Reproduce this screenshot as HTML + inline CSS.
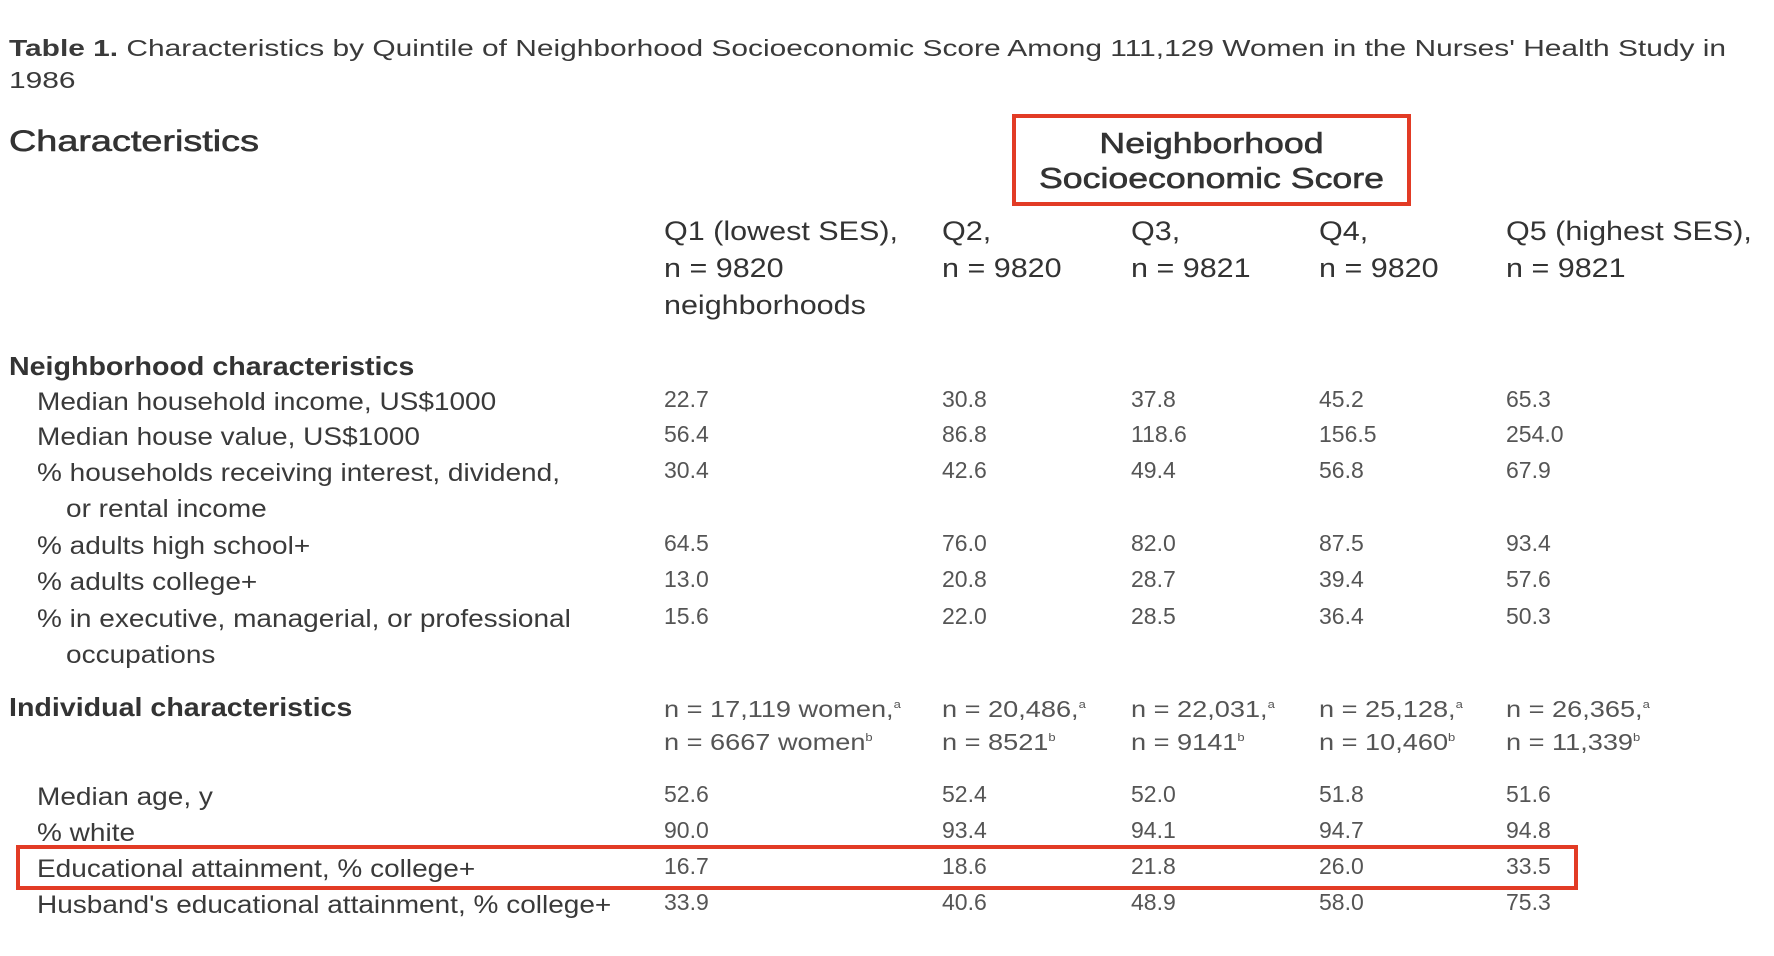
<!DOCTYPE html>
<html><head><meta charset="utf-8"><style>
body{margin:0;width:1774px;height:956px;background:#fff;position:relative;overflow:hidden;font-family:"Liberation Sans",sans-serif;color:#3a3a3a}
.t{position:absolute;white-space:nowrap;line-height:1;transform-origin:0 0}
.cap{font-size:23px;transform:scaleX(1.3)}
.h{font-size:30px;color:#333;-webkit-text-stroke:0.6px #333}
.ch{font-size:27px;color:#333;transform:scaleX(1.13)}
.sec{font-size:26px;font-weight:bold;color:#333;transform:scaleX(1.1)}
.lb{font-size:25px;transform:scaleX(1.12)}
.v{font-size:23px;color:#555}
.n{font-size:23px;color:#555;transform:scaleX(1.18)}
.box{position:absolute;border:4px solid #e23b25;box-sizing:border-box}
sup{font-size:11px;vertical-align:9px;line-height:0}
</style></head><body>
<div class="t cap" style="left:9px;top:37px"><b>Table 1.</b> Characteristics by Quintile of Neighborhood Socioeconomic Score Among 111,129 Women in the Nurses' Health Study in</div>
<div class="t cap" style="left:9px;top:69px">1986</div>
<div class="t h" style="left:9px;top:127px;transform:scaleX(1.26)">Characteristics</div>
<div class="box" style="left:1012px;top:114px;width:399px;height:92px"></div>
<div class="t h" style="left:1012px;width:399px;text-align:center;top:127px;white-space:normal;line-height:35px;font-size:29px;transform-origin:50% 0;transform:scaleX(1.23)">Neighborhood<br>Socioeconomic Score</div>

<div class="t ch" style="left:664px;top:213px;line-height:37px">Q1 (lowest SES),<br>n = 9820<br>neighborhoods</div>
<div class="t ch" style="left:942px;top:213px;line-height:37px">Q2,<br>n = 9820</div>
<div class="t ch" style="left:1131px;top:213px;line-height:37px">Q3,<br>n = 9821</div>
<div class="t ch" style="left:1319px;top:213px;line-height:37px">Q4,<br>n = 9820</div>
<div class="t ch" style="left:1506px;top:213px;line-height:37px">Q5 (highest SES),<br>n = 9821</div>

<div class="t sec" style="left:9px;top:353px">Neighborhood characteristics</div>
<div id="rows"></div>

<div class="t sec" style="left:9px;top:694px">Individual characteristics</div>
<div class="t n" style="left:664px;top:693px;line-height:33px">n = 17,119 women,<sup>a</sup><br>n = 6667 women<sup>b</sup></div>
<div class="t n" style="left:942px;top:693px;line-height:33px">n = 20,486,<sup>a</sup><br>n = 8521<sup>b</sup></div>
<div class="t n" style="left:1131px;top:693px;line-height:33px">n = 22,031,<sup>a</sup><br>n = 9141<sup>b</sup></div>
<div class="t n" style="left:1319px;top:693px;line-height:33px">n = 25,128,<sup>a</sup><br>n = 10,460<sup>b</sup></div>
<div class="t n" style="left:1506px;top:693px;line-height:33px">n = 26,365,<sup>a</sup><br>n = 11,339<sup>b</sup></div>
<div class="box" style="left:16px;top:845px;width:1562px;height:45px"></div>

<script>
const labels=[["Median household income, US$1000"],["Median house value, US$1000"],["% households receiving interest, dividend,","or rental income"],["% adults high school+"],["% adults college+"],["% in executive, managerial, or professional","occupations"],["Median age, y"],["% white"],["Educational attainment, % college+"],["Husband's educational attainment, % college+"]];
const rowY=[402,437,473,546,582,619,797,833,869,905];
const q1=["22.7","56.4","30.4","64.5","13.0","15.6","52.6","90.0","16.7","33.9"];
const q2=["30.8","86.8","42.6","76.0","20.8","22.0","52.4","93.4","18.6","40.6"];
const q3=["37.8","118.6","49.4","82.0","28.7","28.5","52.0","94.1","21.8","48.9"];
const q4=["45.2","156.5","56.8","87.5","39.4","36.4","51.8","94.7","26.0","58.0"];
const q5=["65.3","254.0","67.9","93.4","57.6","50.3","51.6","94.8","33.5","75.3"];
const colX=[664,942,1131,1319,1506];
const cont=document.getElementById('rows');
labels.forEach((l,i)=>{
  const y=rowY[i];
  l.forEach((s,j)=>{
    const d=document.createElement('div');
    d.className='t lb';
    d.style.left=(j?66:37)+'px';d.style.top=(y-12+j*36)+'px';
    d.textContent=s;
    
    
    cont.appendChild(d);
  });
  [q1,q2,q3,q4,q5].forEach((arr,k)=>{
    const d=document.createElement('div');
    d.className='t v';
    d.style.left=colX[k]+'px';d.style.top=(y-14)+'px';
    d.textContent=arr[i];
    
    
    cont.appendChild(d);
  });
});
</script>
</body></html>
